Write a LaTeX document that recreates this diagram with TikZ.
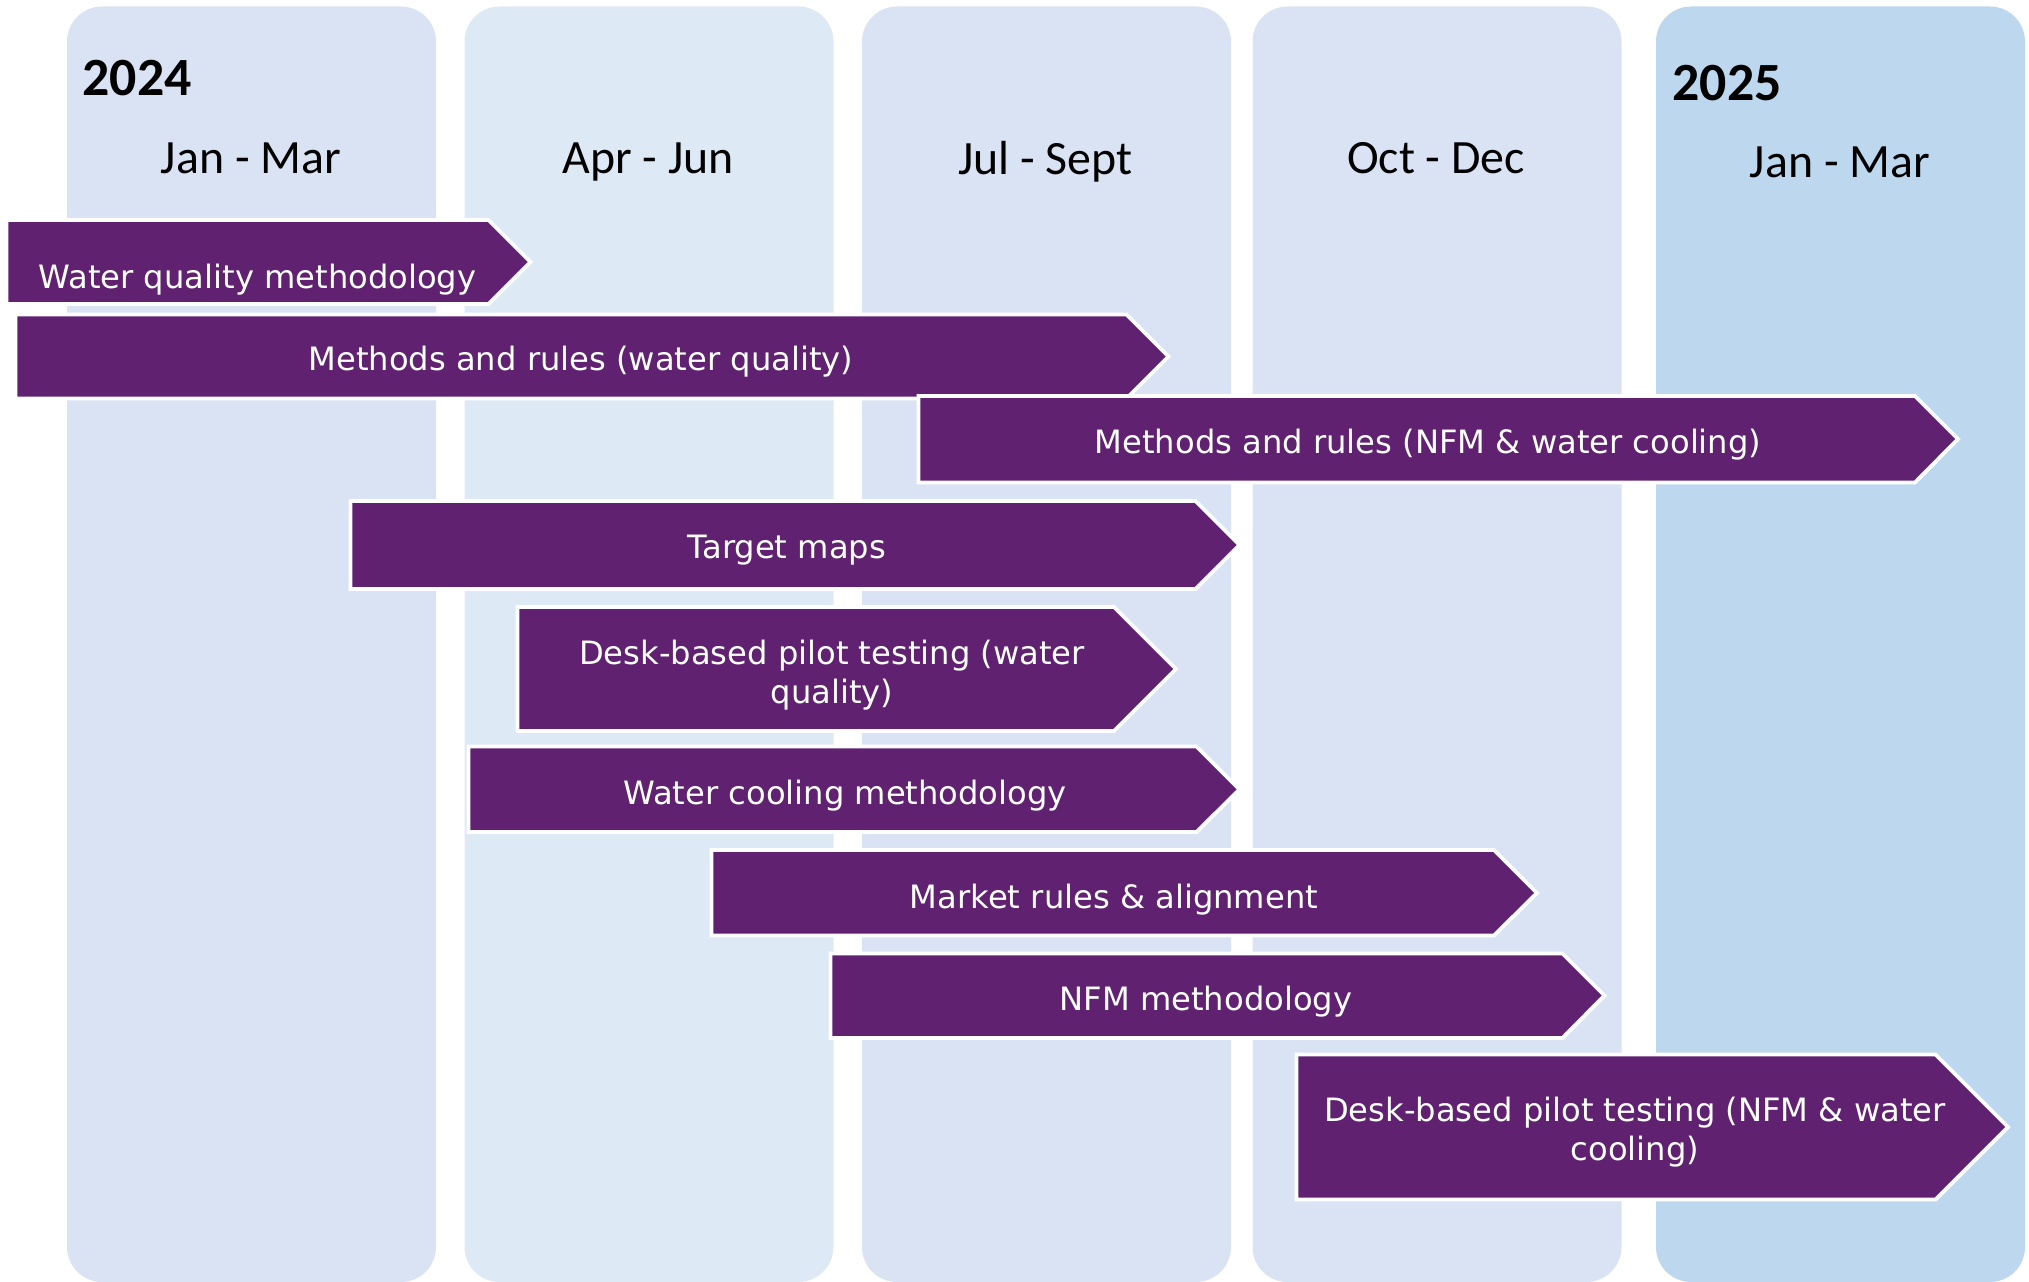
\documentclass[tikz,border=0pt]{standalone}
\usepackage{fontspec}
\setmainfont{DejaVu Sans}
\newfontfamily\headfont{Carlito}
\usepackage{tikz}

\definecolor{quarterblue}{HTML}{DAE3F3}
\definecolor{quarterpale}{HTML}{DEE9F6}
\definecolor{nextyear}{HTML}{BDD7EE}
\definecolor{taskpurple}{HTML}{5F2170}

\begin{document}
\begin{tikzpicture}[x=0.01cm, y=-0.01cm,
    quarter/.style={fill=#1, rounded corners=0.35cm},
    task/.style={fill=taskpurple, draw=white, line width=1.1pt},
    tasktext/.style={text=white, font=\fontsize{9.15}{11.1}\selectfont, align=center, inner sep=0pt},
    yeartext/.style={font=\headfont\bfseries\fontsize{15.3}{18}\selectfont, anchor=west, inner sep=0pt},
    qtext/.style={font=\headfont\fontsize{13.6}{16}\selectfont, inner sep=0pt}]

        \useasboundingbox (0,0) rectangle (2029,1282);

        % Quarter columns
        \foreach \x/\c in {67/quarterblue, 464.5/quarterpale, 862/quarterblue, 1252.5/quarterblue, 1656/nextyear}
            \fill[quarter=\c] (\x, 6.5) rectangle ++(369, 1275.5);

        % Year and quarter headings
        \node[yeartext] (y2024) at (82, 78) {2024};
        \node[qtext] (q1) at (251, 158) {Jan - Mar};
        \node[qtext] (q2) at (648, 162) {Apr - Jun};
        \node[qtext] (q3) at (1045.5, 162) {Jul - Sept};
        \node[qtext] (q4) at (1436, 158) {Oct - Dec};
        \node[yeartext] (y2025) at (1672, 83) {2025};
        \node[qtext] (q5) at (1840, 162) {Jan - Mar};

        % Task bars
        \draw[task] (6.5, 220) -- (488.5, 220) -- (530.5, 262) -- (488.5, 304) -- (6.5, 304) -- cycle;
        \node[tasktext] (wqmethod) at (257.5, 280) {Water quality methodology};

        \draw[task] (15.5, 314.5) -- (1126.5, 314.5) -- (1168.5, 356.5) -- (1126.5, 398.5) -- (15.5, 398.5) -- cycle;
        \node[tasktext] (rulesWQ) at (581, 362) {Methods and rules (water quality)};

        \draw[task] (918.5, 396) -- (1915, 396) -- (1958, 439) -- (1915, 482.5) -- (918.5, 482.5) -- cycle;
        \node[tasktext] (rulesNFM) at (1428, 444.5) {Methods and rules (NFM \& water cooling)};

        \draw[task] (350.5, 501) -- (1195.5, 501) -- (1239.5, 545) -- (1195.5, 589) -- (350.5, 589) -- cycle;
        \node[tasktext] (targets) at (787, 550) {Target maps};

        \draw[task] (517.5, 607) -- (1114, 607) -- (1176, 669) -- (1114, 731) -- (517.5, 731) -- cycle;
        \node[tasktext] (pilotWQ) at (832, 675.5) {Desk-based pilot testing (water\\quality)};

        \draw[task] (468.5, 746.5) -- (1196.5, 746.5) -- (1239.5, 789.5) -- (1196.5, 832) -- (468.5, 832) -- cycle;
        \node[tasktext] (wcmethod) at (845, 796) {Water cooling methodology};

        \draw[task] (711.5, 850) -- (1494, 850) -- (1537, 893) -- (1494, 935.5) -- (711.5, 935.5) -- cycle;
        \node[tasktext] (market) at (1114, 899.5) {Market rules \& alignment};

        \draw[task] (830.5, 953.5) -- (1562.5, 953.5) -- (1604.5, 995.5) -- (1562.5, 1038) -- (830.5, 1038) -- cycle;
        \node[tasktext] (nfmmethod) at (1206, 1001.5) {NFM methodology};

        \draw[task] (1296.5, 1054.5) -- (1935.5, 1054.5) -- (2008, 1127) -- (1935.5, 1199.5) -- (1296.5, 1199.5) -- cycle;
        \node[tasktext] (pilotNFM) at (1635, 1132.5) {Desk-based pilot testing (NFM \& water\\cooling)};

    \end{tikzpicture}
\end{document}
